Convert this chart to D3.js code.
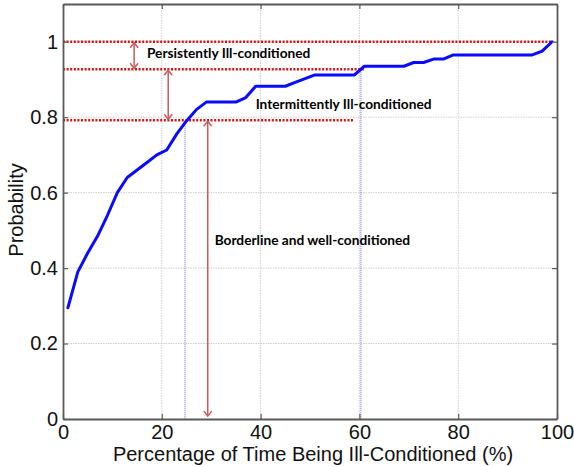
<!DOCTYPE html>
<html>
<head>
<meta charset="utf-8">
<script src="https://cdn.jsdelivr.net/npm/d3@7"></script>
<style>
  html, body { margin: 0; padding: 0; background: #fff; }
  svg { display: block; }
  .tick text { font-family: "Liberation Sans", Arial, sans-serif; }
</style>
</head>
<body>
<svg id="chart" width="574" height="467"></svg>
<script>
// Share of time each case spends ill-conditioned (%) and the cumulative probability
const pctTime = [1, 3, 5, 7, 9, 11, 13, 15, 17, 19, 21, 23, 25, 27, 29, 31, 33, 35, 37, 39,
                 41, 43, 45, 47, 49, 51, 53, 55, 57, 59, 61, 63, 65, 67, 69, 71, 73, 75, 77, 79,
                 81, 83, 85, 87, 89, 91, 93, 95, 97, 99];
const cumProb = [0.295, 0.39, 0.44, 0.485, 0.54, 0.60, 0.64, 0.66, 0.68, 0.70,
                 0.713, 0.755, 0.79, 0.82, 0.84, 0.84, 0.84, 0.84, 0.852, 0.882,
                 0.882, 0.882, 0.882, 0.892, 0.902, 0.912, 0.912, 0.912, 0.912, 0.912,
                 0.935, 0.935, 0.935, 0.935, 0.935, 0.945, 0.945, 0.954, 0.954, 0.965,
                 0.965, 0.965, 0.965, 0.965, 0.965, 0.965, 0.965, 0.965, 0.975, 1.0];

const xTicks = [0, 20, 40, 60, 80, 100];
const yTicks = [0, 0.2, 0.4, 0.6, 0.8, 1];

// Class thresholds (probability) and where each dotted guide ends (% time)
const levels = [1.0, 0.927, 0.792];
const levelEnds = [99, 61.2, 58.7];
// Crossing points of the curve with the lower two thresholds
const crossX = [24.7, 60.3];
const crossY = [0.792, 0.93];
// Double-headed arrows: x position and the probability span each covers
const arrowX = [14.4, 21.3, 29.3];
const arrowFrom = [1.0, 0.927, 0.792];
const arrowTo = [0.927, 0.792, 0.005];

const classNames = ["Persistently Ill-conditioned", "Intermittently Ill-conditioned", "Borderline and well-conditioned"];
const classX = [17.0, 39.0, 30.7];
const classY = [0.958, 0.823, 0.462];

const svg = d3.select("#chart");
const x = d3.scaleLinear().domain([0, 100]).range([63, 557]);
const y = d3.scaleLinear().domain([0, 1.1]).range([419, 4]);

// grid
const grid = svg.append("g");
grid.selectAll("line.gx").data(xTicks.slice(1, -1)).join("line")
  .attr("x1", d => x(d)).attr("x2", d => x(d))
  .attr("y1", y(0)).attr("y2", y(1.1))
  .attr("stroke", "#cfcfcf").attr("stroke-width", 1).attr("stroke-dasharray", "1.5,1");
grid.selectAll("line.gy").data(yTicks.slice(1)).join("line")
  .attr("x1", x(0)).attr("x2", x(100))
  .attr("y1", d => y(d)).attr("y2", d => y(d))
  .attr("stroke", "#cfcfcf").attr("stroke-width", 1).attr("stroke-dasharray", "1.5,1");

// threshold guides
svg.append("g").selectAll("line").data(levels).join("line")
  .attr("x1", x(0)).attr("x2", (d, i) => x(levelEnds[i]))
  .attr("y1", d => y(d)).attr("y2", d => y(d))
  .attr("stroke", "#e01010").attr("stroke-width", 2.6).attr("stroke-dasharray", "2,1.6");

// crossing drop lines
svg.append("g").selectAll("line").data(crossX).join("line")
  .attr("x1", d => x(d)).attr("x2", d => x(d))
  .attr("y1", (d, i) => y(crossY[i])).attr("y2", y(0))
  .attr("stroke", "#7b6cd6").attr("stroke-width", 1.1).attr("stroke-dasharray", "1,1");

// arrows
const arrowColor = "#cc5a5a";
const arrows = svg.append("g").attr("stroke", arrowColor).attr("fill", "none")
  .attr("stroke-width", 1.5);
arrowX.forEach((ax, i) => {
  const px = x(ax), y1 = y(arrowFrom[i]), y2 = y(arrowTo[i]);
  arrows.append("line").attr("x1", px).attr("x2", px).attr("y1", y1 + 1).attr("y2", y2 - 1);
  arrows.append("path").attr("d", `M${px - 4},${y1 + 6}L${px},${y1 + 1}L${px + 4},${y1 + 6}`);
  arrows.append("path").attr("d", `M${px - 4},${y2 - 6}L${px},${y2 - 1}L${px + 4},${y2 - 6}`);
});

// curve
svg.append("path")
  .datum(pctTime.map((d, i) => [d, cumProb[i]]))
  .attr("fill", "none").attr("stroke", "#0a0aff").attr("stroke-width", 3)
  .attr("stroke-linejoin", "round").attr("stroke-linecap", "round")
  .attr("d", d3.line().x(d => x(d[0])).y(d => y(d[1])));

// class labels
svg.append("g").selectAll("text").data(classNames).join("text")
  .attr("x", (d, i) => x(classX[i])).attr("y", (d, i) => y(classY[i]))
  .attr("font-family", "Lato, 'Open Sans', sans-serif").attr("font-weight", 700)
  .attr("font-size", 13.7).attr("fill", "#000")
  .text(d => d);

// axes (box with inward ticks)
const axisColor = "#5a5a5a";
function styleAxis(g) {
  g.select(".domain").attr("stroke", axisColor).attr("stroke-width", 1.8);
  g.selectAll(".tick line").attr("stroke", axisColor).attr("stroke-width", 1.2);
  g.selectAll(".tick text").attr("fill", "#111").attr("font-size", 20);
}
svg.append("g").attr("transform", `translate(0,${y(0)})`)
  .call(d3.axisBottom(x).tickValues(xTicks).tickFormat(d3.format("d")).tickSizeInner(-5).tickSizeOuter(0).tickPadding(6))
  .call(styleAxis);
svg.append("g").attr("transform", `translate(0,${y(1.1)})`)
  .call(d3.axisTop(x).tickValues(xTicks).tickFormat("").tickSizeInner(-5).tickSizeOuter(0))
  .call(styleAxis);
svg.append("g").attr("transform", `translate(${x(0)},0)`)
  .call(d3.axisLeft(y).tickValues(yTicks).tickFormat(d => d === 0 || d === 1 ? d3.format("d")(d) : d3.format(".1f")(d)).tickSizeInner(-5).tickSizeOuter(0).tickPadding(5))
  .call(styleAxis);
svg.append("g").attr("transform", `translate(${x(100)},0)`)
  .call(d3.axisRight(y).tickValues(yTicks).tickFormat("").tickSizeInner(-5).tickSizeOuter(0))
  .call(styleAxis);

// axis titles
svg.append("text")
  .attr("x", 313).attr("y", 461).attr("text-anchor", "middle")
  .attr("font-family", "'Liberation Sans', Arial, sans-serif").attr("font-size", 20).attr("fill", "#111")
  .text("Percentage of Time Being Ill-Conditioned (%)");
svg.append("text")
  .attr("transform", "translate(23,210) rotate(-90)").attr("text-anchor", "middle")
  .attr("font-family", "'Liberation Sans', Arial, sans-serif").attr("font-size", 20).attr("fill", "#111")
  .text("Probability");
</script>
</body>
</html>
